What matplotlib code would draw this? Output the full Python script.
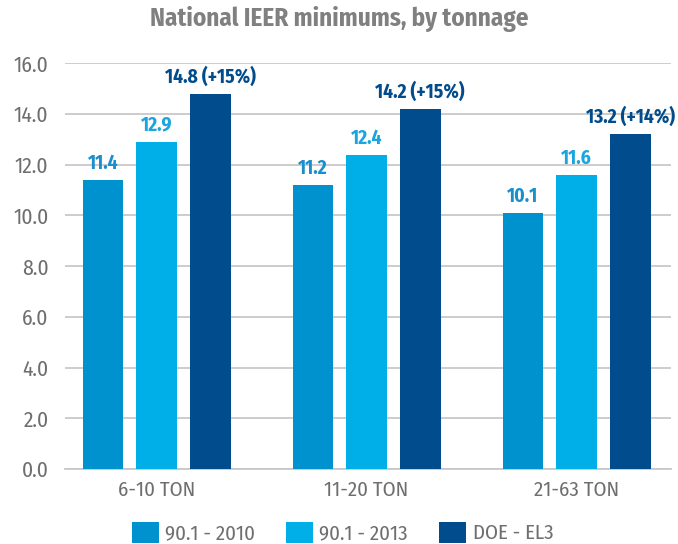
import numpy as np
import matplotlib.pyplot as plt

# values
categories = ['6-10 TON', '11-20 TON', '21-63 TON']
series_names = ['90.1 - 2010', '90.1 - 2013', 'DOE - EL3']
v2010 = [11.4, 11.2, 10.1]
v2013 = [12.9, 12.4, 11.6]
doe_el3 = [14.8, 14.2, 13.2]
doe_gain = ['+15%', '+15%', '+14%']
yticks = [0, 2, 4, 6, 8, 10, 12, 14, 16]

colors = ['#0092cf', '#00aee8', '#004c8c']
label_colors = ['#1b8fcb', '#1ba5de', '#004c8c']
grid_gray = '#c8c8c8'
text_gray = '#6e6e6e'

plt.rcParams['font.family'] = ['Fira Sans Condensed', 'Asap Condensed', 'DejaVu Sans']

fig = plt.figure(figsize=(6.78, 5.44), dpi=100)
ax = fig.add_axes([0.0959, 0.1379, 0.8938, 0.7457])

x = np.arange(len(categories))
w = 0.195
off = 0.255
all_vals = [v2010, v2013, doe_el3]
for i, vals in enumerate(all_vals):
    xs = x + (i - 1) * off
    ax.bar(xs, vals, width=w, color=colors[i], label=series_names[i], zorder=3)
    for j, v in enumerate(vals):
        txt = f'{v:.1f}'
        if i == 2:
            txt += f' ({doe_gain[j]})'
        ax.annotate(txt, (xs[j], v), xytext=(0, 5), textcoords='offset points',
                    ha='center', va='bottom', fontsize=14, fontweight='bold',
                    color=label_colors[i])

ax.set_ylim(0, 16)
ax.set_xlim(-0.436, 2.45)
ax.set_yticks(yticks)
ax.set_yticklabels([f'{t:.1f}' for t in yticks])
ax.set_xticks(x)
ax.set_xticklabels(categories)
ax.yaxis.grid(True, color=grid_gray, linewidth=1.3, zorder=0)
ax.set_axisbelow(True)
for s in ['top', 'right', 'left']:
    ax.spines[s].set_visible(False)
ax.spines['bottom'].set_color(grid_gray)
ax.spines['bottom'].set_linewidth(1.3)
ax.tick_params(axis='y', length=0, pad=12, labelsize=15.5, labelcolor=text_gray)
ax.tick_params(axis='x', length=0, pad=8, labelsize=15, labelcolor=text_gray)

fig.text(0.5, 0.965, 'National IEER minimums, by tonnage', ha='center', va='center',
         fontsize=18, fontweight='bold', color='#808080')

leg = fig.legend(loc='center', bbox_to_anchor=(0.505, 0.021), ncol=3, frameon=False,
                 fontsize=15, handlelength=1.3, handleheight=1.2, handletextpad=0.3,
                 columnspacing=1.5, borderpad=0)
for t in leg.get_texts():
    t.set_color(text_gray)

fig.savefig('out.png', dpi=100)
